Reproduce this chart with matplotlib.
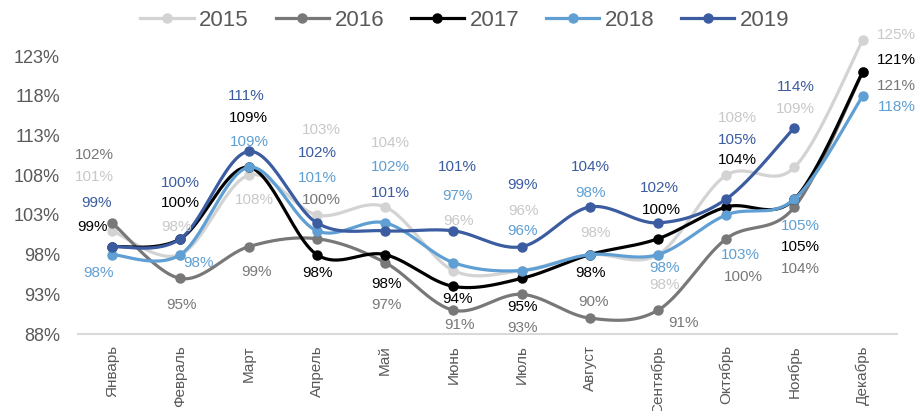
import numpy as np
import matplotlib.pyplot as plt

# data
months = ['Январь', 'Февраль', 'Март', 'Апрель', 'Май', 'Июнь', 'Июль',
          'Август', 'Сентябрь', 'Октябрь', 'Ноябрь', 'Декабрь']
years = ['2015', '2016', '2017', '2018', '2019']
v2015 = [101, 98, 108, 103, 104, 96, 96, 98, 98, 108, 109, 125]
v2016 = [102, 95, 99, 100, 97, 91, 93, 90, 91, 100, 104, 121]
v2017 = [99, 100, 109, 98, 98, 94, 95, 98, 100, 104, 105, 121]
v2018 = [98, 98, 109, 101, 102, 97, 96, 98, 98, 103, 105, 118]
v2019 = [99, 100, 111, 102, 101, 101, 99, 104, 102, 105, 114]
yticks = [88, 93, 98, 103, 108, 113, 118, 123]

# label offsets in pixels (dx, dy up) from each point
off2015 = [(-18, 54), (-4, 28), (6, -25), (5, 85), (5, 64), (5, 50), (2, 60),
           (6, 22), (6, -30), (11, 57), (1, 58), (34, 5)]
off2016 = [(-18, 68), (1, -27), (8, -25), (5, 39), (1, -42), (6, -15), (1, -34),
           (4, 16), (25, -13), (17, -38), (6, -62), (34, -14)]
off2017 = [(-20, 20), (0, 36), (0, 49), (1, -18), (1, -29), (4, -13), (1, -29),
           (1, -18), (3, 29), (11, 47), (6, -48), (34, 12)]
off2018 = [(-14, -18), (18, -8), (1, 25), (1, 53), (5, 56), (4, 67), (1, 40),
           (1, 62), (6, -13), (14, -40), (6, -27), (34, -11)]
off2019 = [(-16, 44), (0, 56), (-2, 55), (1, 70), (5, 38), (4, 64), (1, 62),
           (1, 40), (1, 35), (11, 59), (1, 41)]

colors = ['#d3d3d3', '#787878', '#000000', '#5f9fd3', '#3b5ca0']
label_colors = ['#c8c8c8', '#787878', '#000000', '#5f9fd3', '#3b5ca0']
series = [v2015, v2016, v2017, v2018, v2019]
offsets = [off2015, off2016, off2017, off2018, off2019]


def smooth(x, y, n=30):
    # excel-like smoothed line (bezier with 1/6 tangents)
    x = np.asarray(x, float)
    y = np.asarray(y, float)
    px = np.concatenate([[x[0]], x, [x[-1]]])
    py = np.concatenate([[y[0]], y, [y[-1]]])
    t = np.linspace(0, 1, n)[:, None]
    xs, ys = [], []
    for i in range(1, len(px) - 2):
        p0 = np.array([px[i], py[i]])
        p3 = np.array([px[i + 1], py[i + 1]])
        c1 = p0 + (np.array([px[i + 1], py[i + 1]]) - np.array([px[i - 1], py[i - 1]])) / 6
        c2 = p3 - (np.array([px[i + 2], py[i + 2]]) - np.array([px[i], py[i]])) / 6
        b = ((1 - t) ** 3) * p0 + 3 * ((1 - t) ** 2) * t * c1 + 3 * (1 - t) * t ** 2 * c2 + t ** 3 * p3
        xs.append(b[:, 0])
        ys.append(b[:, 1])
    return np.concatenate(xs), np.concatenate(ys)


fig = plt.figure(figsize=(9.17, 4.11), dpi=100)
ax = fig.add_axes([0.0851, 0.1873, 0.8929, 0.7341])

lab_font = ['Liberation Sans Narrow', 'Liberation Sans', 'DejaVu Sans']

for name, vals, col, lcol, offs in zip(years, series, colors, label_colors, offsets):
    xi = np.arange(len(vals))
    sx, sy = smooth(xi, vals)
    ax.plot(sx, sy, color=col, lw=2.3, solid_capstyle='round')
    ax.plot(xi, vals, 'o', color=col, ms=6.5, label=name)
    for x, v, (dx, dy) in zip(xi, vals, offs):
        ax.annotate(f'{v}%', (x, v), xytext=(dx, dy), textcoords='offset pixels',
                    ha='center', va='center', color=lcol, fontsize=11,
                    family=lab_font)

ax.set_xlim(-0.5, 11.5)
ax.set_ylim(88, 126)
ax.set_yticks(yticks)
ax.set_yticklabels([f'{t}%' for t in yticks], family='Liberation Sans')
ax.set_xticks(range(12))
ax.set_xticklabels(months, rotation=90, va='top', family='Liberation Sans')
ax.tick_params(axis='y', length=0, pad=13, labelsize=13, labelcolor='#595959')
ax.tick_params(axis='x', length=0, pad=8, labelsize=11, labelcolor='#595959')
for s in ['top', 'right', 'left']:
    ax.spines[s].set_visible(False)
ax.spines['bottom'].set_color('#d9d9d9')
ax.spines['bottom'].set_linewidth(1.5)

# legend handles: line with marker
handles = [plt.Line2D([], [], color=c, lw=2.3, marker='o', ms=6.5) for c in colors]
fig.legend(handles, years, loc='center', bbox_to_anchor=(0.507, 0.95), ncol=5,
           frameon=False, prop={'family': 'Liberation Sans', 'size': 16},
           labelcolor='#595959', handlelength=2.4, handletextpad=0.25,
           columnspacing=1.2)

fig.savefig('out.png', dpi=100)
